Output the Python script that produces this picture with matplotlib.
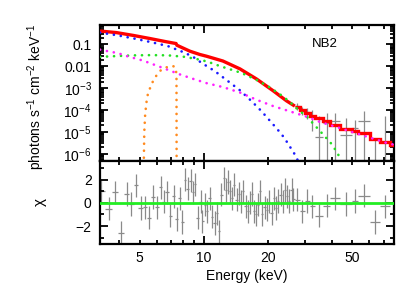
import numpy as np
import matplotlib
matplotlib.use('Agg')
import matplotlib.pyplot as plt
from matplotlib.ticker import FixedLocator, FixedFormatter, NullFormatter, LogLocator

plt.rcParams['font.family'] = ['Liberation Sans', 'DejaVu Sans']
plt.rcParams['mathtext.fontset'] = 'custom'
plt.rcParams['mathtext.rm'] = 'Liberation Sans'
plt.rcParams['mathtext.it'] = 'Liberation Sans:italic'
plt.rcParams['mathtext.default'] = 'regular'
plt.rcParams['font.size'] = 10

# ---------------- data ----------------
# model components (energy keV, log10 photons s^-1 cm^-2 keV^-1)
blue_E = [3.25, 3.95, 4.74, 5.67, 6.79, 8.14, 9.0, 9.75, 11.26, 13.0, 14.76, 16.76, 18.67, 21.2, 23.2, 24.46, 26.8, 28.0]
blue_log = [-0.46, -0.59, -0.74, -0.90, -1.08, -1.38, -1.60, -1.84, -2.22, -2.68, -3.09, -3.59, -4.05, -4.66, -5.10, -5.42, -6.03, -6.40]

green_E = [3.25, 3.95, 4.74, 5.67, 6.79, 8.14, 9.6, 10.5, 11.9, 15.0, 17.7, 20.4, 23.6, 26.3, 28.3, 30.4, 31.5, 35.5, 39.5, 42.5, 44.5]
green_log = [-1.57, -1.53, -1.50, -1.49, -1.50, -1.57, -1.70, -1.80, -1.99, -2.30, -2.62, -2.96, -3.38, -3.76, -4.05, -4.28, -4.45, -5.00, -5.50, -5.95, -6.40]

magenta_E = [3.25, 3.36, 3.95, 4.33, 5.18, 6.44, 7.71, 8.75, 10.3, 12.3, 14.8, 17.7, 21.2, 25.4, 30.4, 35.1, 43.6, 50.4, 60.0, 72.3, 78.0]
magenta_log = [-1.24, -1.27, -1.40, -1.53, -1.74, -2.08, -2.37, -2.55, -2.77, -2.95, -3.20, -3.53, -3.82, -4.06, -4.30, -4.54, -4.82, -5.02, -5.25, -5.50, -5.58]

orange_E = [5.22, 5.25, 5.30, 5.37, 5.47, 5.77, 5.99, 6.21, 6.44, 6.79, 7.17, 7.39, 7.44, 7.45]
orange_log = [-6.5, -5.0, -4.2, -3.67, -3.21, -2.68, -2.42, -2.22, -2.11, -2.02, -1.99, -2.07, -2.5, -6.5]

# total model: smooth part and binned (step) part
red_E = [3.25, 3.88, 4.66, 5.57, 6.67, 7.40, 7.48, 8.6, 9.57, 10.3, 12.3, 14.8, 17.7, 21.2, 24.5, 26.8]
red_log = [-0.39, -0.46, -0.59, -0.73, -0.88, -0.96, -1.04, -1.31, -1.46, -1.54, -1.76, -2.12, -2.58, -3.12, -3.58, -3.82]

hi_edges = [26.8, 28.3, 29.9, 31.5, 33.3, 36.4, 39.2, 43.6, 49.6, 53.2, 60.4, 67.3, 75.0, 78.0]
red_step_log = [-3.88, -4.00, -4.13, -4.25, -4.38, -4.52, -4.67, -4.86, -4.97, -5.07, -5.30, -5.47, -5.58]

# high-energy data bins (first 12 bins of hi_edges)
hi_flux = [1.5e-4, 1.0e-4, 8.0e-5, 5.6e-5, 5.8e-6, 2.5e-5, 3.1e-5, 7.6e-6, 1.55e-5, 3.3e-5, -2.5e-5, -1.0e-5]
hi_sigma = [5.0e-5, 4.0e-5, 4.0e-5, 4.5e-5, 5.0e-5, 4.6e-5, 4.3e-5, 3.7e-5, 2.0e-5, 5.6e-5, 3.0e-5, 6.3e-5]
hi_chi = [0.25, -0.75, 0.15, -0.3, -1.1, -0.25, 0.4, -0.1, 0.15, 0.6, -1.65, -0.3]

# low-energy residual bins (centres, keV) and chi
low_E = [3.29, 3.60, 3.83, 4.08, 4.34, 4.55, 4.80, 5.04, 5.30, 5.55, 5.76, 6.03, 6.26, 6.48, 6.72,
         6.97, 7.23, 7.49, 7.69, 7.91, 8.17, 8.41, 8.66, 8.91, 9.10, 9.37, 9.65, 9.86, 10.11, 10.36,
         10.67, 10.94, 11.27, 11.55, 11.80, 12.11, 12.42, 12.69, 13.01, 13.25, 13.59, 13.88, 14.25,
         14.61, 14.98, 15.31, 15.71, 16.06, 16.46, 16.77, 17.19, 17.57, 18.00, 18.34, 18.80, 19.36,
         19.85, 20.29, 20.82, 21.35, 21.82, 22.36, 22.95, 23.46, 24.04, 24.65, 25.19, 25.85, 26.40]
low_chi = [1.0, -0.5, 0.9, -2.6, 0.75, -0.1, 1.5, -0.45, -0.4, -1.3, 0.5, -0.4, 1.35, 0.1, 0.9,
           -1.1, 0.55, -1.4, 0.4, -1.65, 2.0, 1.2, 1.9, 0.9, 1.6, -1.3, 0.1, -1.6, -0.15, -0.75,
           0.4, -1.2, -1.75, -0.9, -2.45, 0.7, 2.1, 1.1, 1.8, 1.0, 0.4, 1.55, 0.25,
           0.8, 0.1, 1.0, -0.3, -0.75, 0.0, 0.75, -0.75, -1.0, -0.15, 1.0, -1.0, -0.4,
           -0.6, 0.1, -0.9, 0.4, -0.45, 0.15, 0.7, 0.1, 1.1, 0.55, 0.15, 1.1, 0.3]
chi_err = 1.0

# tick labels
x_tick_vals = [5, 10, 20, 50]
x_tick_labels = ['5', '10', '20', '50']
y_tick_vals = [1e-1, 1e-2, 1e-3, 1e-4, 1e-5, 1e-6]
y_tick_labels = ['0.1', '0.01', r'$10^{-3}$', r'$10^{-4}$', r'$10^{-5}$', r'$10^{-6}$']
r_tick_vals = [-2, 0, 2]
r_tick_labels = ['\u22122', '0', '2']

# ---------------- figure ----------------
W, H = 396, 283
fig = plt.figure(figsize=(W / 100, H / 100), dpi=100)
L, R = 100 / W, 393.5 / W
ax1 = fig.add_axes([L, 1 - 161 / H, R - L, (161 - 25) / H])
ax2 = fig.add_axes([L, 1 - 244 / H, R - L, (244 - 161) / H], sharex=ax1)

XMIN, XMAX = 3.25, 78.0
YMIN, YMAX = 4.7e-7, 0.77

gray = '#8a8a8a'
dot = dict(lw=1.9, dashes=(0.05, 2.6), dash_capstyle='round', solid_capstyle='round')

# top-panel data crosses (high energy bins)
he = np.array(hi_edges)
hc = np.sqrt(he[:-1] * he[1:])
for i in range(len(hi_flux)):
    f, s = hi_flux[i], hi_sigma[i]
    top = f + s
    bot = f - s
    if top > 0:
        ax1.vlines(hc[i], max(bot, YMIN / 10), top, color=gray, lw=0.9, zorder=1)
    if f > 0:
        ax1.hlines(f, he[i], he[i + 1], color=gray, lw=0.9, zorder=1)

# total model
ax1.plot(red_E, 10 ** np.array(red_log), color='#ff0000', lw=2.4, zorder=3,
         solid_capstyle='butt', solid_joinstyle='miter')
ax1.stairs(10 ** np.array(red_step_log), hi_edges, color='#ff0000', lw=2.4,
           baseline=None, zorder=3)

# components
ax1.plot(blue_E, 10 ** np.array(blue_log), color='#1a1aff', zorder=4, **dot)
ax1.plot(green_E, 10 ** np.array(green_log), color='#22e022', zorder=4, **dot)
ax1.plot(magenta_E, 10 ** np.array(magenta_log), color='#ff22ff', zorder=4, **dot)
ax1.plot(orange_E, 10 ** np.array(orange_log), color='#ff8a1e', zorder=4, **dot)

ax1.text(0.765, 0.86, 'NB2', transform=ax1.transAxes, ha='center', va='center', fontsize=9.5)

ax1.set_xscale('log')
ax1.set_yscale('log')
ax1.set_xlim(XMIN, XMAX)
ax1.set_ylim(YMIN, YMAX)
ax1.yaxis.set_major_locator(FixedLocator(y_tick_vals))
ax1.yaxis.set_major_formatter(FixedFormatter(y_tick_labels))
ax1.yaxis.set_minor_locator(LogLocator(base=10, subs=np.arange(2, 10), numticks=20))
ax1.yaxis.set_minor_formatter(NullFormatter())
ax1.set_ylabel(r'photons s$^{-1}$ cm$^{-2}$ keV$^{-1}$', fontsize=10)
ax1.yaxis.set_label_coords(-0.18, 0.475)

# residuals
lc = np.array(low_E)
mids = np.sqrt(lc[1:] * lc[:-1])
lo_edges = np.concatenate([[lc[0] ** 2 / mids[0]], mids, [hi_edges[0]]])
all_edges_lo = np.concatenate([lo_edges[:-1], he[:-2]])
all_edges_hi = np.concatenate([lo_edges[1:], he[1:-1]])
all_c = np.concatenate([lc, hc[:-1]])
all_chi = np.concatenate([low_chi, hi_chi])
ax2.vlines(all_c, all_chi - chi_err, all_chi + chi_err, color=gray, lw=0.9, zorder=1)
ax2.hlines(all_chi, all_edges_lo, all_edges_hi, color=gray, lw=0.9, zorder=1)
ax2.axhline(0, color='#22ee22', lw=2.0, zorder=3)
ax2.set_ylim(-3.55, 3.6)
ax2.yaxis.set_major_locator(FixedLocator(r_tick_vals))
ax2.yaxis.set_major_formatter(FixedFormatter(r_tick_labels))
ax2.yaxis.set_minor_locator(FixedLocator([-3, -1, 1, 3]))
ax2.set_ylabel(r'$\chi$', fontsize=11)
ax2.yaxis.set_label_coords(-0.175, 0.5)
ax2.set_xlabel('Energy (keV)', fontsize=10, labelpad=3)

for ax in (ax1, ax2):
    ax.xaxis.set_major_locator(FixedLocator([10]))
    ax.xaxis.set_minor_locator(FixedLocator([4, 5, 6, 7, 8, 9, 20, 30, 40, 50, 60, 70]))
    ax.tick_params(which='both', direction='in', top=True, right=True, width=1.3, labelsize=10)
    ax.tick_params(which='major', length=6, pad=5)
    ax.tick_params(which='minor', length=3.2, pad=5)
    ax.tick_params(axis='y', which='both', pad=6)
    for sp in ax.spines.values():
        sp.set_linewidth(1.6)

ax2.xaxis.set_major_formatter(FixedFormatter(['10']))
ax2.xaxis.set_minor_formatter(FixedFormatter(['', '5', '', '', '', '', '20', '', '', '50', '', '']))
ax1.tick_params(axis='x', which='both', labelbottom=False)

fig.savefig('out.png', dpi=100)
